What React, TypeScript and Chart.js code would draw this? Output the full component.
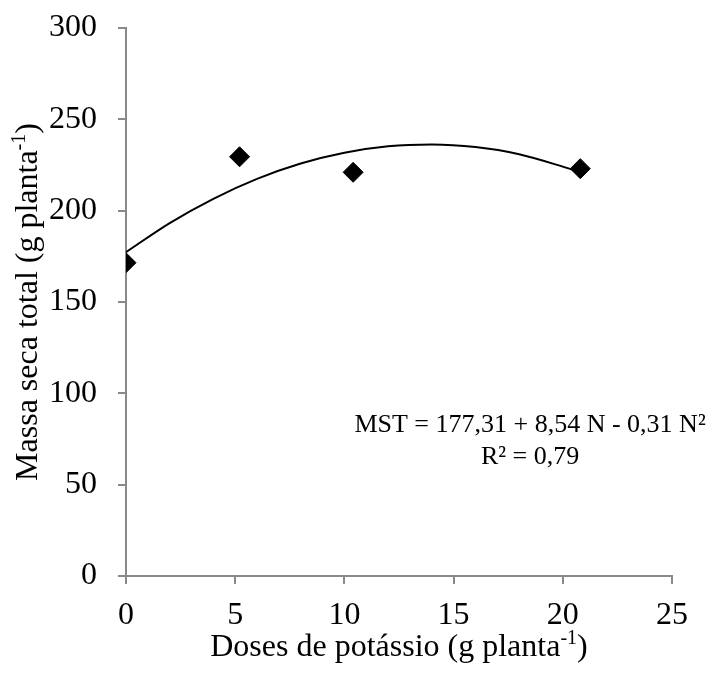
import React, { useEffect, useRef } from "react";
import { Chart, registerables } from "chart.js";

Chart.register(...registerables);

// Observed data (dose of potassium, g planta^-1 ; total dry mass, g planta^-1)
const doses = [0, 5.2, 10.4, 20.8];
const massaSeca = [171.5, 229.5, 221, 223];

// Fitted quadratic trend line
const trendDoses = [0, 2, 4, 6, 8, 10, 12, 14, 16, 18, 20, 20.8];
const trendMassa = [177.3, 193.2, 206.5, 217.4, 225.8, 231.7, 235.2, 236.2, 234.8, 230.9, 224.1, 221.0];

const xRange = [0, 25];
const yRange = [0, 300];
const xStep = 5;
const yStep = 50;

const equationLine1 = "MST = 177,31 + 8,54 N - 0,31 N²";
const equationLine2 = "R² = 0,79";
const xTitleParts = [
  { text: "Doses de potássio (g planta", sup: false },
  { text: "-1", sup: true },
  { text: ")", sup: false },
];
const yTitleParts = [
  { text: "Massa seca total (g planta", sup: false },
  { text: "-1", sup: true },
  { text: ")", sup: false },
];

const FONT = "'Liberation Serif', 'Times New Roman', serif";
const TICK_SIZE = 32;
const TITLE_SIZE = 32;
const EQ_SIZE = 26;
const AXIS_COLOR = "#898989";

type Part = { text: string; sup: boolean };

function drawParts(ctx: CanvasRenderingContext2D, parts: Part[], cx: number, baseline: number, size: number) {
  const supSize = Math.round(size * 0.62);
  let total = 0;
  const widths = parts.map((p) => {
    ctx.font = `${p.sup ? supSize : size}px ${FONT}`;
    const w = ctx.measureText(p.text).width;
    total += w;
    return w;
  });
  let x = cx - total / 2;
  ctx.textAlign = "left";
  ctx.textBaseline = "alphabetic";
  parts.forEach((p, i) => {
    ctx.font = `${p.sup ? supSize : size}px ${FONT}`;
    ctx.fillText(p.text, x, p.sup ? baseline - size * 0.36 : baseline);
    x += widths[i];
  });
}

const textPlugin = {
  id: "textPlugin",
  afterDraw(chart: any) {
    const ctx: CanvasRenderingContext2D = chart.ctx;
    const { chartArea, scales } = chart;
    ctx.save();
    ctx.fillStyle = "#000";
    // x title
    const cx = (chartArea.left + chartArea.right) / 2;
    drawParts(ctx, xTitleParts, cx, 656, TITLE_SIZE);
    // y title
    const cy = (chartArea.top + chartArea.bottom) / 2;
    ctx.save();
    ctx.translate(37, cy);
    ctx.rotate(-Math.PI / 2);
    drawParts(ctx, yTitleParts, 0, 0, TITLE_SIZE);
    ctx.restore();
    // equation
    const ex = scales.x.getPixelForValue(18.5);
    ctx.font = `${EQ_SIZE}px ${FONT}`;
    ctx.textAlign = "center";
    ctx.textBaseline = "alphabetic";
    ctx.fillText(equationLine1, ex, scales.y.getPixelForValue(79));
    ctx.fillText(equationLine2, ex, scales.y.getPixelForValue(61.5));
    ctx.restore();
  },
};

export default function App() {
  const ref = useRef<HTMLCanvasElement | null>(null);
  useEffect(() => {
    document.body.style.margin = "0";
    const canvas = ref.current!;
    const chart = new Chart(canvas, {
      type: "scatter",
      data: {
        datasets: [
          {
            label: "trend",
            data: trendDoses.map((x, i) => ({ x, y: trendMassa[i] })),
            showLine: true,
            borderColor: "#000",
            borderWidth: 2,
            pointRadius: 0,
            cubicInterpolationMode: "monotone",
            fill: false,
          } as any,
          {
            label: "MST",
            data: doses.map((x, i) => ({ x, y: massaSeca[i] })),
            pointStyle: "rectRot",
            pointRadius: 10,
            backgroundColor: "#000",
            borderColor: "#000",
            borderWidth: 1,
          },
        ],
      },
      options: {
        animation: false,
        responsive: false,
        devicePixelRatio: 1,
        layout: { padding: { left: 0, top: 28, right: 42, bottom: 0 } },
        plugins: { legend: { display: false }, tooltip: { enabled: false } },
        scales: {
          x: {
            type: "linear",
            min: xRange[0],
            max: xRange[1],
            afterFit: (s: any) => {
              s.height = 100;
              s.paddingLeft = 0;
              s.paddingRight = 0;
            },
            ticks: {
              stepSize: xStep,
              color: "#000",
              font: { family: FONT, size: TICK_SIZE },
              padding: 12,
            },
            grid: { drawOnChartArea: false, color: AXIS_COLOR, lineWidth: 2, tickLength: 8 },
            border: { color: AXIS_COLOR, width: 2 },
          },
          y: {
            type: "linear",
            min: yRange[0],
            max: yRange[1],
            afterFit: (s: any) => {
              s.width = 126;
              s.paddingTop = 0;
              s.paddingBottom = 0;
            },
            ticks: {
              stepSize: yStep,
              color: "#000",
              font: { family: FONT, size: TICK_SIZE },
              padding: 21,
            },
            grid: { drawOnChartArea: false, color: AXIS_COLOR, lineWidth: 2, tickLength: 8 },
            border: { color: AXIS_COLOR, width: 2 },
          },
        },
      } as any,
      plugins: [textPlugin],
    });
    return () => chart.destroy();
  }, []);
  return (
    <div style={{ position: "fixed", left: 0, top: 0, width: 714, height: 676, background: "#fff" }}>
      <canvas ref={ref} width={714} height={676} />
    </div>
  );
}
